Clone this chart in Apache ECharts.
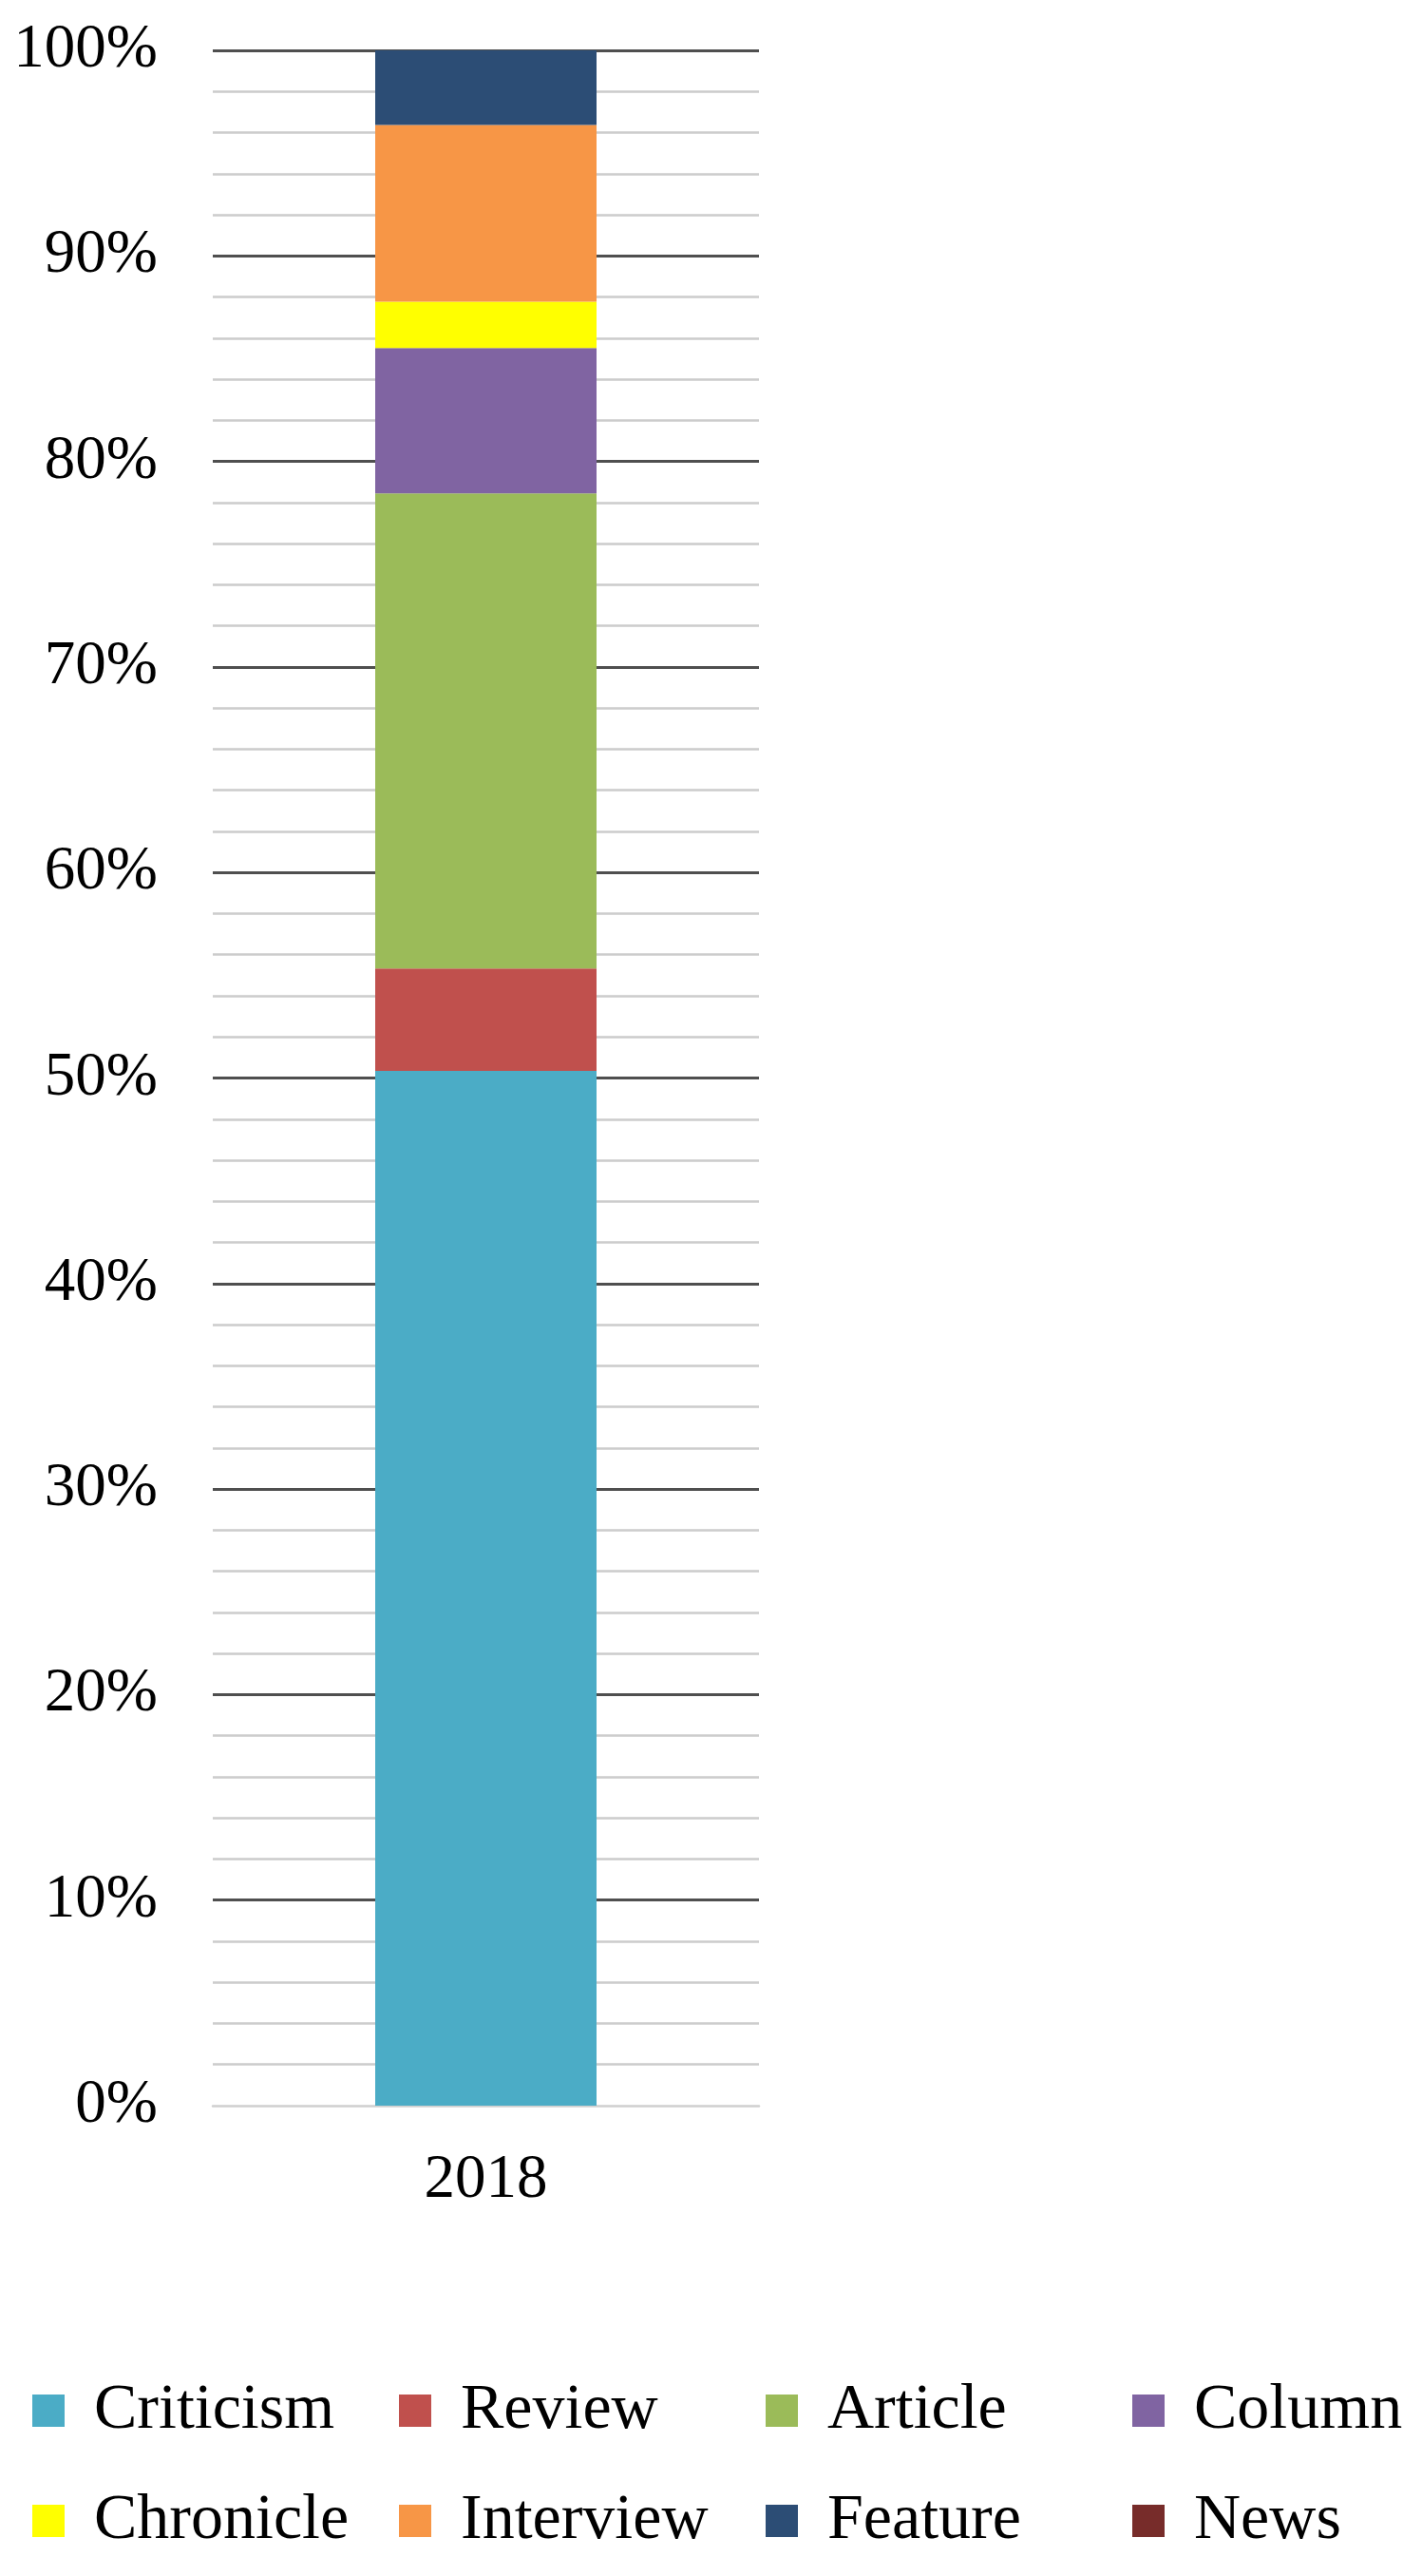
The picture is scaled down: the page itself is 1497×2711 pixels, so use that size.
<!DOCTYPE html>
<html>
<head>
<meta charset="utf-8">
<script src="https://cdn.jsdelivr.net/npm/echarts@6/dist/echarts.min.js"></script>
<style>
html,body{margin:0;padding:0;background:#fff;}
#chart{width:1497px;height:2711px;}
</style>
</head>
<body>
<div id="chart"></div>
<script>
// ---- data ----
const categories = ['2018'];
const seriesNames = ['Criticism', 'Review', 'Article', 'Column', 'Chronicle', 'Interview', 'Feature', 'News'];
const criticism = [50.35];
const review = [4.98];
const article = [23.12];
const column = [7.07];
const chronicle = [2.25];
const interview = [8.60];
const feature = [3.63];
const news = [0];
const seriesValues = [criticism, review, article, column, chronicle, interview, feature, news];
const yTicks = [0, 10, 20, 30, 40, 50, 60, 70, 80, 90, 100];

// ---- styles ----
const colors = ['#4BACC6', '#C0504D', '#9BBB59', '#8064A2', '#FFFF00', '#F79646', '#2C4D75', '#772C2A'];
const serif = '"Liberation Serif", "Times New Roman", serif';

const chart = echarts.init(document.getElementById('chart'));

const legendCols = [29, 415, 801, 1187];
const legendRows = [2497, 2613];
const legends = seriesNames.map((name, i) => ({
  left: legendCols[i % 4],
  top: legendRows[Math.floor(i / 4)],
  data: [name],
  icon: 'rect',
  itemWidth: 34,
  itemHeight: 34,
  itemGap: 0,
  selectedMode: false,
  textStyle: { fontFamily: serif, fontSize: 68, color: '#000', lineHeight: 70, padding: [0, 0, 0, 26] }
}));

chart.setOption({
  animation: false,
  backgroundColor: '#fff',
  color: colors,
  grid: { left: 224, right: 698, top: 53, bottom: 495, containLabel: false },
  legend: legends,
  xAxis: {
    type: 'category',
    data: categories,
    axisLine: { show: true, lineStyle: { color: '#d0d0d0', width: 2.5 } },
    axisTick: { show: false },
    axisLabel: { fontFamily: serif, fontSize: 65, color: '#000', margin: 46 }
  },
  yAxis: {
    type: 'value',
    min: yTicks[0],
    max: yTicks[yTicks.length - 1],
    interval: 10,
    axisLine: { show: false },
    axisTick: { show: false },
    axisLabel: { fontFamily: serif, fontSize: 65, color: '#000', margin: 58, formatter: '{value}%' },
    splitLine: { show: true, showMinLine: false, lineStyle: { color: '#4f4f4f', width: 3 } },
    minorTick: { show: false, splitNumber: 5 },
    minorSplitLine: { show: true, lineStyle: { color: '#cccccc', width: 2.5 } }
  },
  series: seriesNames.map((name, i) => ({
    name: name,
    type: 'bar',
    stack: 'total',
    barWidth: 233,
    data: seriesValues[i],
    itemStyle: { color: colors[i] }
  }))
});
</script>
</body>
</html>
